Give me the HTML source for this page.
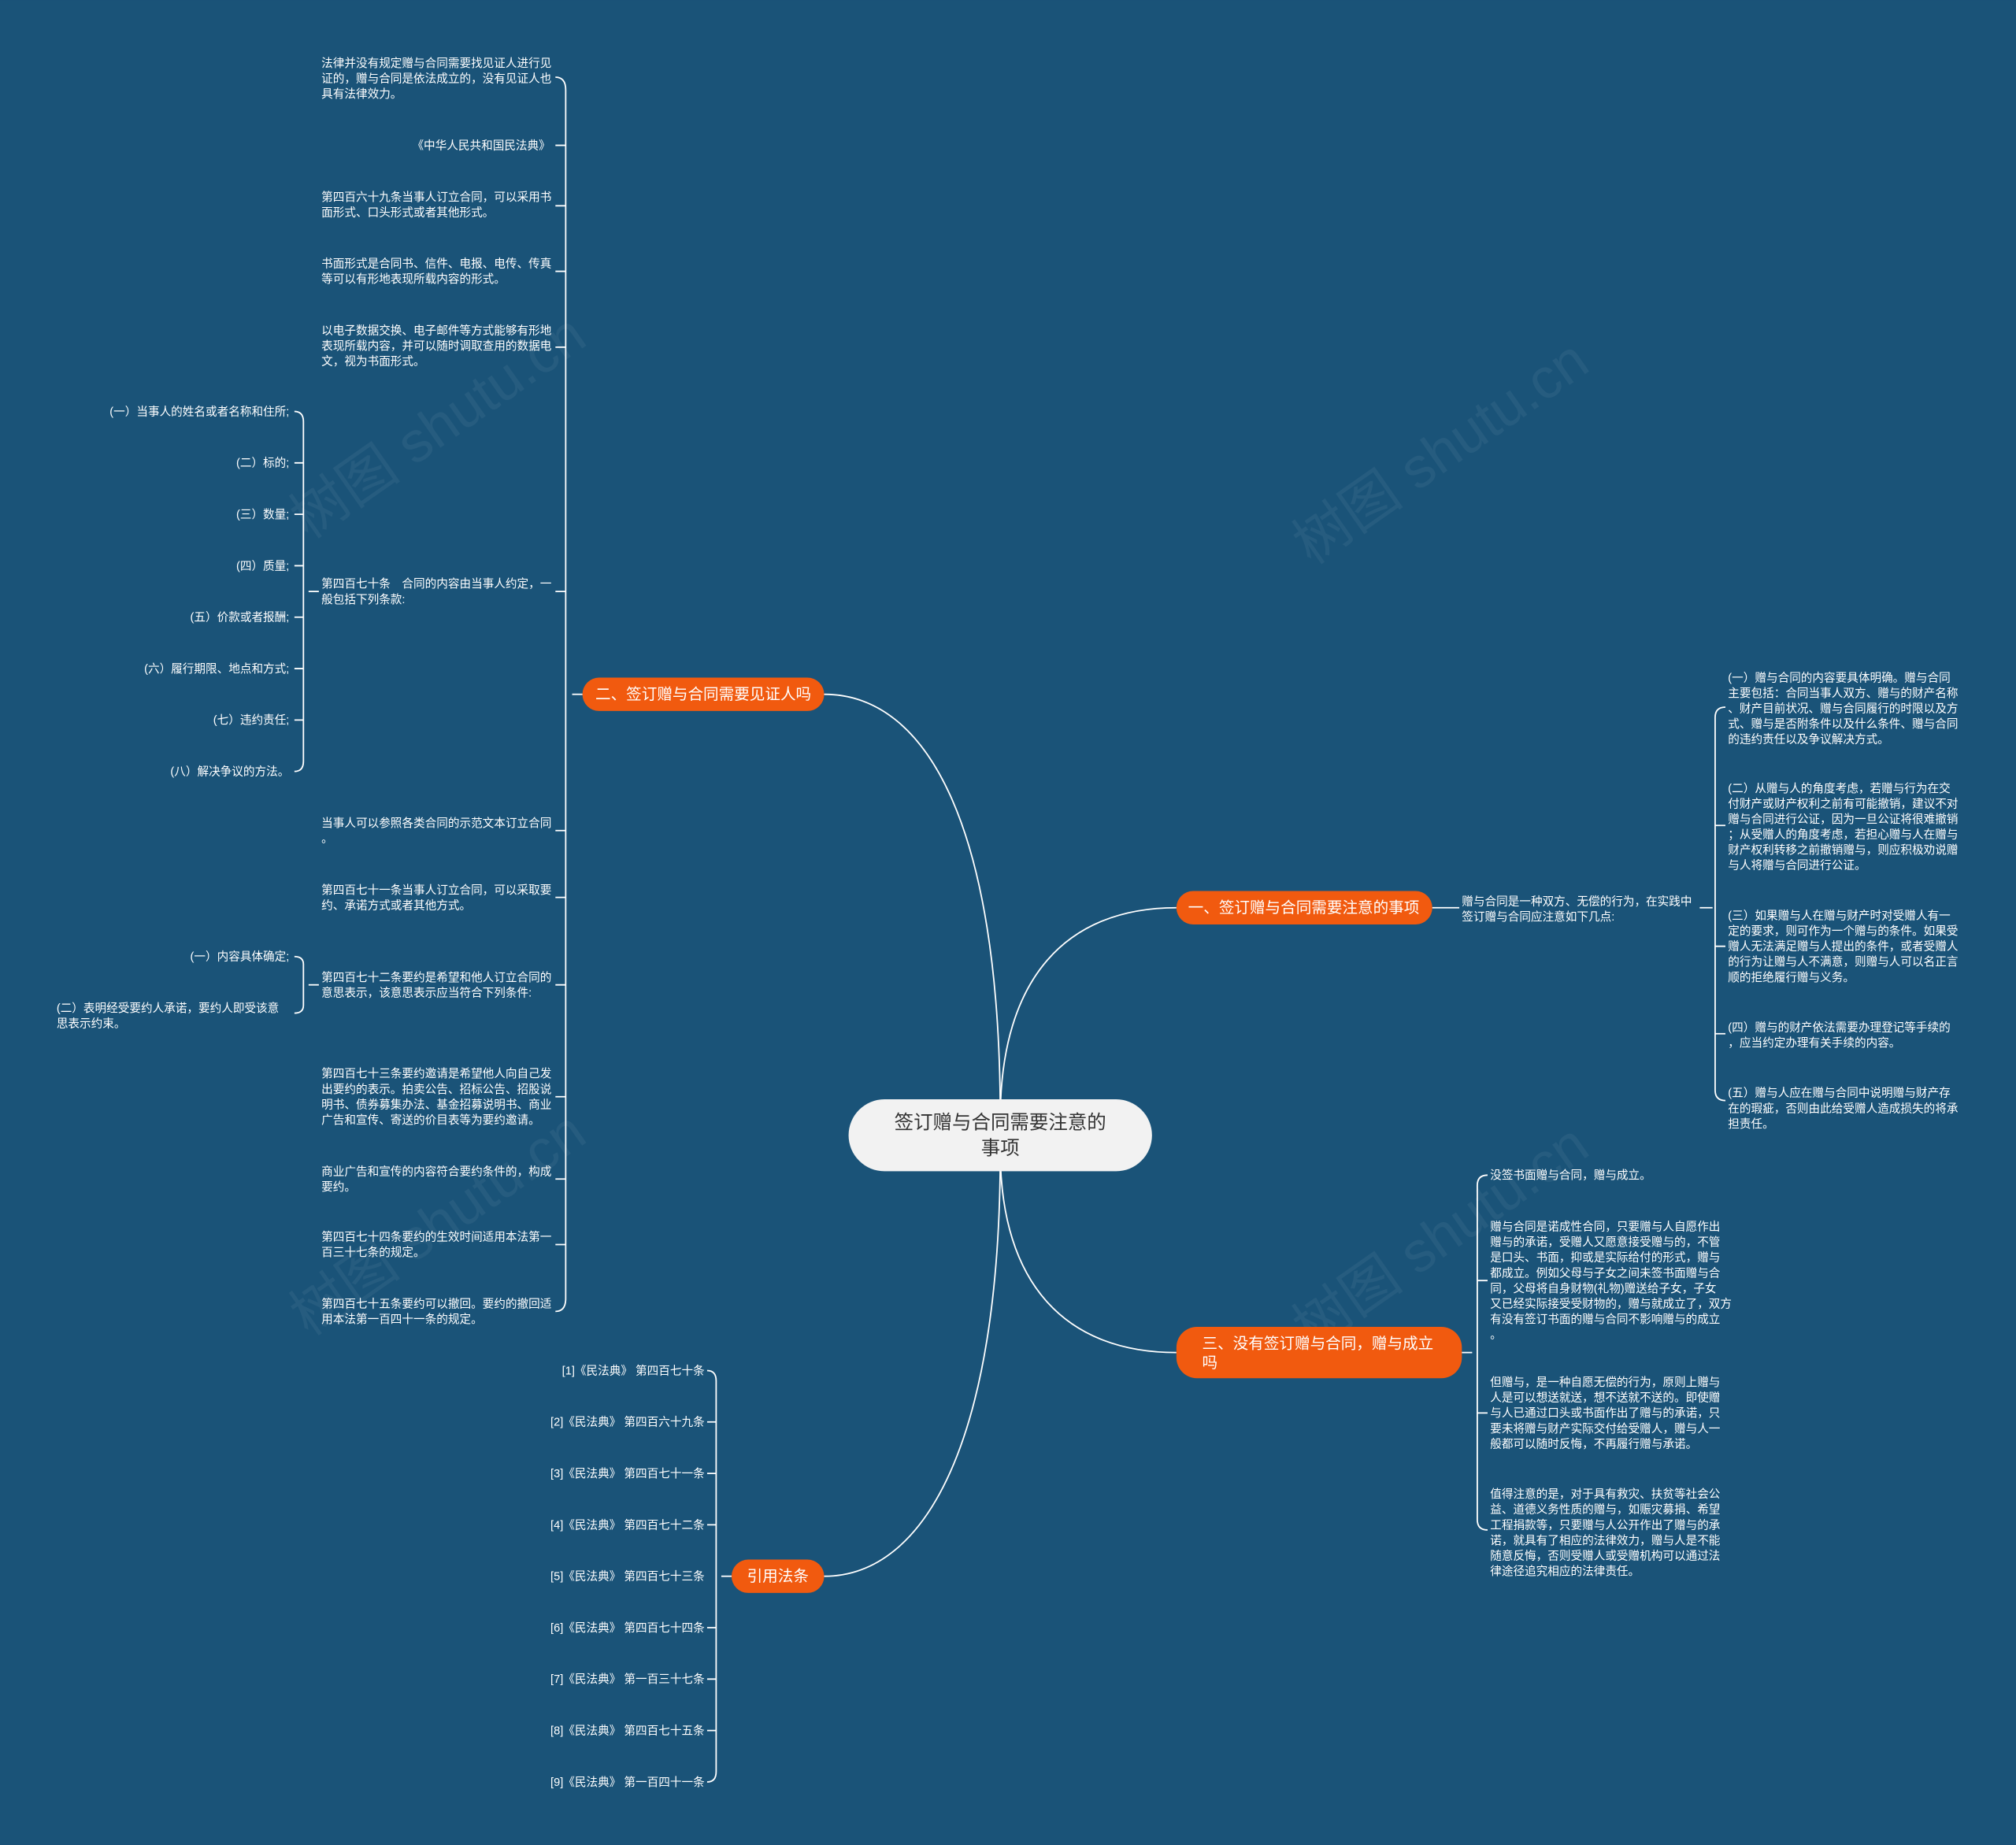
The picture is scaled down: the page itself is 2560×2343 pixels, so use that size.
<!DOCTYPE html>
<html><head><meta charset="utf-8"><style>
html,body{margin:0;padding:0;background:#1a5378;}
svg{display:block}
text{font-family:"Liberation Sans","Noto Sans CJK SC",sans-serif;fill:#fff;font-size:8.95px}
.r{text-anchor:end}
.ln{stroke:#fff;stroke-width:1.1;fill:none}
.wm{font-size:44px;fill:#fff;opacity:0.05}
</style></head><body>
<svg width="2560" height="2343" viewBox="0 0 1568 1435" xmlns="http://www.w3.org/2000/svg">
<rect width="1568" height="1435" fill="#1a5378"/>
<text class="wm" transform="translate(240,420) rotate(-35)">树图 shutu.cn</text>
<text class="wm" transform="translate(1020,440) rotate(-35)">树图 shutu.cn</text>
<text class="wm" transform="translate(240,1040) rotate(-35)">树图 shutu.cn</text>
<text class="wm" transform="translate(1020,1050) rotate(-35)">树图 shutu.cn</text>

<path class="ln" d="M778,870 C778,640 720,540 641,540"/>
<path class="ln" d="M778,870 C778,760 830,706 915,706"/>
<path class="ln" d="M778,895 C778,1000 830,1052 915,1052"/>
<path class="ln" d="M778,895 C778,1120 720,1226 641,1226"/>

<rect x="660" y="855" width="236" height="56" rx="28" fill="#f2f2f2"/>
<text x="778" y="878" text-anchor="middle" style="fill:#333;font-size:15px">签订赠与合同需要注意的</text>
<text x="778" y="898" text-anchor="middle" style="fill:#333;font-size:15px">事项</text>

<rect x="453" y="527" width="188" height="26" rx="13" fill="#f15a0f"/>
<text x="547" y="544" text-anchor="middle" style="font-size:12px">二、签订赠与合同需要见证人吗</text>
<rect x="915" y="693" width="199" height="26" rx="13" fill="#f15a0f"/>
<text x="1014" y="710" text-anchor="middle" style="font-size:12px">一、签订赠与合同需要注意的事项</text>
<rect x="915" y="1032" width="222" height="40" rx="16" fill="#f15a0f"/>
<text x="935" y="1049" style="font-size:12px">三、没有签订赠与合同，赠与成立</text>
<text x="935" y="1064" style="font-size:12px">吗</text>
<rect x="569" y="1213" width="72" height="26" rx="13" fill="#f15a0f"/>
<text x="605" y="1230" text-anchor="middle" style="font-size:12px">引用法条</text>

<path class="ln" d="M453,540 H445"/>
<path class="ln" d="M432,60 Q440,60 440,70 V1010 Q440,1020 432,1020"/>
<path class="ln" d="M432,113 H440 M432,160 H440 M432,211 H440 M432,270 H440 M432,460 H440 M432,646 H440 M432,698 H440 M432,766 H440 M432,853 H440 M432,917 H440 M432,968 H440"/>
<text x="250" y="52">法律并没有规定赠与合同需要找见证人进行见</text>
<text x="250" y="64">证的，赠与合同是依法成立的，没有见证人也</text>
<text x="250" y="76">具有法律效力。</text>
<text x="428" y="116" class="r">《中华人民共和国民法典》</text>
<text x="250" y="156">第四百六十九条当事人订立合同，可以采用书</text>
<text x="250" y="168">面形式、口头形式或者其他形式。</text>
<text x="250" y="208">书面形式是合同书、信件、电报、电传、传真</text>
<text x="250" y="220">等可以有形地表现所载内容的形式。</text>
<text x="250" y="260">以电子数据交换、电子邮件等方式能够有形地</text>
<text x="250" y="272">表现所载内容，并可以随时调取查用的数据电</text>
<text x="250" y="284">文，视为书面形式。</text>
<text x="250" y="457">第四百七十条　合同的内容由当事人约定，一</text>
<text x="250" y="469">般包括下列条款:</text>
<text x="250" y="643">当事人可以参照各类合同的示范文本订立合同</text>
<text x="250" y="655">。</text>
<text x="250" y="695">第四百七十一条当事人订立合同，可以采取要</text>
<text x="250" y="707">约、承诺方式或者其他方式。</text>
<text x="250" y="763">第四百七十二条要约是希望和他人订立合同的</text>
<text x="250" y="775">意思表示，该意思表示应当符合下列条件:</text>
<text x="250" y="838">第四百七十三条要约邀请是希望他人向自己发</text>
<text x="250" y="850">出要约的表示。拍卖公告、招标公告、招股说</text>
<text x="250" y="862">明书、债券募集办法、基金招募说明书、商业</text>
<text x="250" y="874">广告和宣传、寄送的价目表等为要约邀请。</text>
<text x="250" y="914">商业广告和宣传的内容符合要约条件的，构成</text>
<text x="250" y="926">要约。</text>
<text x="250" y="965">第四百七十四条要约的生效时间适用本法第一</text>
<text x="250" y="977">百三十七条的规定。</text>
<text x="250" y="1017">第四百七十五条要约可以撤回。要约的撤回适</text>
<text x="250" y="1029">用本法第一百四十一条的规定。</text>

<path class="ln" d="M248,460 H240"/>
<path class="ln" d="M229,320 Q236,320 236,328 V592 Q236,600 229,600"/>
<path class="ln" d="M229,360 H236 M229,400 H236 M229,440 H236 M229,480 H236 M229,520 H236 M229,560 H236"/>
<text x="225" y="323" class="r">(一）当事人的姓名或者名称和住所;</text>
<text x="225" y="363" class="r">(二）标的;</text>
<text x="225" y="403" class="r">(三）数量;</text>
<text x="225" y="443" class="r">(四）质量;</text>
<text x="225" y="483" class="r">(五）价款或者报酬;</text>
<text x="225" y="523" class="r">(六）履行期限、地点和方式;</text>
<text x="225" y="563" class="r">(七）违约责任;</text>
<text x="225" y="603" class="r">(八）解决争议的方法。</text>

<path class="ln" d="M248,766 H240"/>
<path class="ln" d="M229,744 Q236,744 236,750 V782 Q236,788 229,788"/>
<text x="225" y="747" class="r">(一）内容具体确定;</text>
<text x="44" y="787">(二）表明经受要约人承诺，要约人即受该意</text>
<text x="44" y="799">思表示约束。</text>

<path class="ln" d="M1114,706 H1135"/>
<text x="1137" y="704">赠与合同是一种双方、无偿的行为，在实践中</text>
<text x="1137" y="716">签订赠与合同应注意如下几点:</text>
<path class="ln" d="M1322,706 H1332"/>
<path class="ln" d="M1342,550 Q1334,550 1334,558 V848 Q1334,856 1342,856"/>
<path class="ln" d="M1334,642 H1342 M1334,736 H1342 M1334,804 H1342"/>
<text x="1344" y="530">(一）赠与合同的内容要具体明确。赠与合同</text>
<text x="1344" y="542">主要包括：合同当事人双方、赠与的财产名称</text>
<text x="1344" y="554">、财产目前状况、赠与合同履行的时限以及方</text>
<text x="1344" y="566">式、赠与是否附条件以及什么条件、赠与合同</text>
<text x="1344" y="578">的违约责任以及争议解决方式。</text>
<text x="1344" y="616">(二）从赠与人的角度考虑，若赠与行为在交</text>
<text x="1344" y="628">付财产或财产权利之前有可能撤销，建议不对</text>
<text x="1344" y="640">赠与合同进行公证，因为一旦公证将很难撤销</text>
<text x="1344" y="652">；从受赠人的角度考虑，若担心赠与人在赠与</text>
<text x="1344" y="664">财产权利转移之前撤销赠与，则应积极劝说赠</text>
<text x="1344" y="676">与人将赠与合同进行公证。</text>
<text x="1344" y="715">(三）如果赠与人在赠与财产时对受赠人有一</text>
<text x="1344" y="727">定的要求，则可作为一个赠与的条件。如果受</text>
<text x="1344" y="739">赠人无法满足赠与人提出的条件，或者受赠人</text>
<text x="1344" y="751">的行为让赠与人不满意，则赠与人可以名正言</text>
<text x="1344" y="763">顺的拒绝履行赠与义务。</text>
<text x="1344" y="802">(四）赠与的财产依法需要办理登记等手续的</text>
<text x="1344" y="814">，应当约定办理有关手续的内容。</text>
<text x="1344" y="853">(五）赠与人应在赠与合同中说明赠与财产存</text>
<text x="1344" y="865">在的瑕疵，否则由此给受赠人造成损失的将承</text>
<text x="1344" y="877">担责任。</text>

<path class="ln" d="M1137,1052 H1145"/>
<path class="ln" d="M1157,914 Q1149,914 1149,922 V1182 Q1149,1190 1157,1190"/>
<path class="ln" d="M1149,996 H1157 M1149,1099 H1157"/>
<text x="1159" y="917">没签书面赠与合同，赠与成立。</text>
<text x="1159" y="957">赠与合同是诺成性合同，只要赠与人自愿作出</text>
<text x="1159" y="969">赠与的承诺，受赠人又愿意接受赠与的，不管</text>
<text x="1159" y="981">是口头、书面，抑或是实际给付的形式，赠与</text>
<text x="1159" y="993">都成立。例如父母与子女之间未签书面赠与合</text>
<text x="1159" y="1005">同，父母将自身财物(礼物)赠送给子女，子女</text>
<text x="1159" y="1017">又已经实际接受受财物的，赠与就成立了，双方</text>
<text x="1159" y="1029">有没有签订书面的赠与合同不影响赠与的成立</text>
<text x="1159" y="1041">。</text>
<text x="1159" y="1078">但赠与，是一种自愿无偿的行为，原则上赠与</text>
<text x="1159" y="1090">人是可以想送就送，想不送就不送的。即使赠</text>
<text x="1159" y="1102">与人已通过口头或书面作出了赠与的承诺，只</text>
<text x="1159" y="1114">要未将赠与财产实际交付给受赠人，赠与人一</text>
<text x="1159" y="1126">般都可以随时反悔，不再履行赠与承诺。</text>
<text x="1159" y="1165">值得注意的是，对于具有救灾、扶贫等社会公</text>
<text x="1159" y="1177">益、道德义务性质的赠与，如赈灾募捐、希望</text>
<text x="1159" y="1189">工程捐款等，只要赠与人公开作出了赠与的承</text>
<text x="1159" y="1201">诺，就具有了相应的法律效力，赠与人是不能</text>
<text x="1159" y="1213">随意反悔，否则受赠人或受赠机构可以通过法</text>
<text x="1159" y="1225">律途径追究相应的法律责任。</text>

<path class="ln" d="M569,1226 H561"/>
<path class="ln" d="M550,1066 Q557,1066 557,1074 V1378 Q557,1386 550,1386"/>
<path class="ln" d="M550,1106 H557 M550,1146 H557 M550,1186 H557 M550,1266 H557 M550,1306 H557 M550,1346 H557"/>
<text x="548" y="1069" class="r">[1]《民法典》 第四百七十条</text>
<text x="548" y="1109" class="r">[2]《民法典》 第四百六十九条</text>
<text x="548" y="1149" class="r">[3]《民法典》 第四百七十一条</text>
<text x="548" y="1189" class="r">[4]《民法典》 第四百七十二条</text>
<text x="548" y="1229" class="r">[5]《民法典》 第四百七十三条</text>
<text x="548" y="1269" class="r">[6]《民法典》 第四百七十四条</text>
<text x="548" y="1309" class="r">[7]《民法典》 第一百三十七条</text>
<text x="548" y="1349" class="r">[8]《民法典》 第四百七十五条</text>
<text x="548" y="1389" class="r">[9]《民法典》 第一百四十一条</text>
</svg>
</body></html>
